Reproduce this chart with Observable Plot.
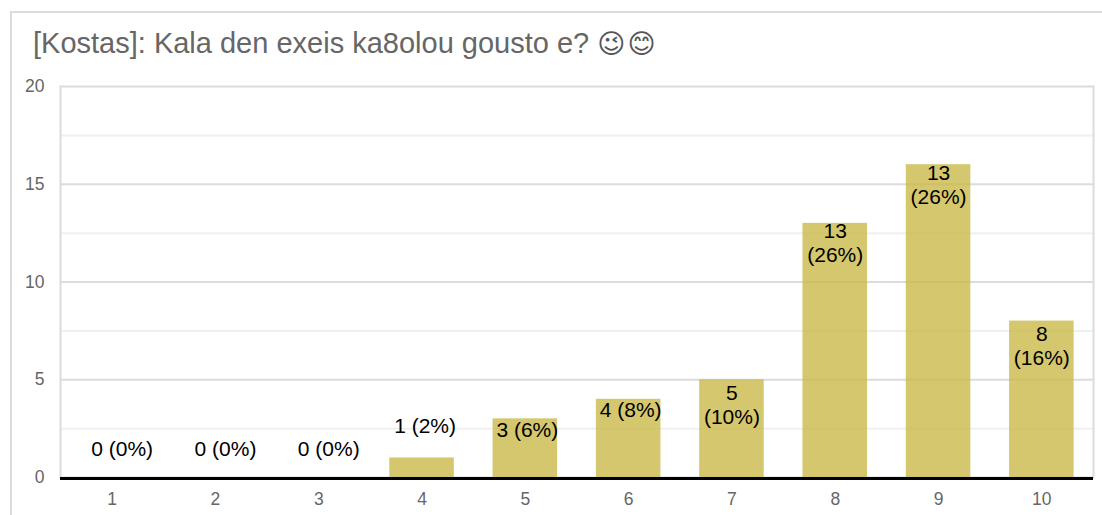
<!DOCTYPE html>
<html>
<head>
<meta charset="utf-8">
<script src="https://cdn.jsdelivr.net/npm/d3@7"></script>
<script src="https://cdn.jsdelivr.net/npm/@observablehq/plot@0.6"></script>
<style>
html,body{margin:0;padding:0;background:#fff;overflow:hidden}
#page{position:relative;width:1102px;height:515px;overflow:hidden;font-family:"Liberation Sans",Arial,sans-serif}
#card{position:absolute;left:10px;top:11px;width:1200px;height:600px;border:2px solid #dcdcdc;box-sizing:border-box}
#title{position:absolute;left:33px;top:27px;height:33px;line-height:33px;font-size:29px;color:#666;white-space:nowrap}
#title .e{font-family:"DejaVu Sans";font-size:27px;color:#555;letter-spacing:2px}
#chart{position:absolute;left:0;top:0}
</style>
</head>
<body>
<div id="page">
<div id="card"></div>
<div id="chart"></div>
<div id="title">[Kostas]: Kala den exeis ka8olou gousto e? <span class="e">😉😊</span></div>
</div>
<script>
const ratings = [1, 2, 3, 4, 5, 6, 7, 8, 9, 10];
const counts = [0, 0, 0, 1, 3, 4, 5, 13, 16, 8];
const labels = ["0 (0%)", "0 (0%)", "0 (0%)", "1 (2%)", "3 (6%)", "4 (8%)", "5\n(10%)", "13\n(26%)", "13\n(26%)", "8\n(16%)"];
const majorTicks = [0, 5, 10, 15, 20];
const minorTicks = [2.5, 7.5, 12.5, 17.5];

const rows = ratings.map((r, i) => ({rating: r, count: counts[i], label: labels[i]}));
const textFont = {fontFamily: "Liberation Sans, Arial, sans-serif", fontSize: 21, fill: "#000", lineHeight: 1.143};

const plot = Plot.plot({
  width: 1102,
  height: 515,
  marginLeft: 60,
  marginRight: 9,
  marginTop: 86,
  marginBottom: 38,
  style: {background: "transparent", fontFamily: "Liberation Sans, Arial, sans-serif"},
  x: {type: "band", domain: ratings, paddingInner: 0.375, paddingOuter: 0.1875, align: 0.5, round: false, axis: null},
  y: {domain: [0, 20], axis: null},
  marks: [
    Plot.ruleY(minorTicks, {stroke: "#f0f0f0", strokeWidth: 2}),
    Plot.ruleY(majorTicks.filter(d => d > 0 && d < 20), {stroke: "#dcdcdc", strokeWidth: 2}),
    Plot.frame({stroke: "#dcdcdc", strokeWidth: 2}),
    Plot.barY(rows, {x: "rating", y: "count", fill: "#c9b94a", fillOpacity: 0.8}),
    Plot.ruleY([0], {stroke: "#000", strokeWidth: 3, dy: 1}),
    Plot.axisY(majorTicks, {
      tickSize: 0, tickPadding: 0, dx: -16, fontSize: 17.5, color: "#666", label: null, tickFormat: d => d
    }),
    Plot.axisX(ratings, {
      tickSize: 0, tickPadding: 0, dy: 15, fontSize: 17.5, color: "#666", label: null
    }),
    Plot.text(rows.filter(d => d.count === 0), {x: "rating", y: "count", text: "label", dx: 10, dy: -29, ...textFont}),
    Plot.text(rows.filter(d => d.count === 1), {x: "rating", y: "count", text: "label", dx: 3, dy: -33, ...textFont}),
    Plot.text(rows.filter(d => d.count === 3 || d.count === 4), {x: "rating", y: "count", text: "label", lineAnchor: "top", dy: 1, dx: 2, ...textFont}),
    Plot.text(rows.filter(d => d.count === 5 || d.count === 8), {x: "rating", y: "count", text: "label", lineAnchor: "top", dy: 3, ...textFont}),
    Plot.text(rows.filter(d => d.count >= 13), {x: "rating", y: "count", text: "label", lineAnchor: "top", dy: -2, ...textFont})
  ]
});
document.getElementById("chart").append(plot);
</script>
</body>
</html>
